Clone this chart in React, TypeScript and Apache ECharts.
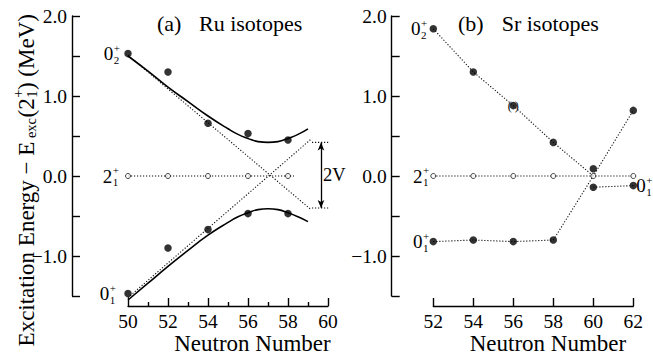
import React, { useEffect, useRef } from 'react';
import * as echarts from 'echarts';

const FONT = "'Liberation Serif', 'Times New Roman', serif";

// ---- Ru isotopes (panel a) ----
const ruN = [50, 52, 54, 56, 58];
const ruExcited0 = [1.53, 1.30, 0.66, 0.53, 0.45];
const ruGround0 = [-1.47, -0.90, -0.67, -0.47, -0.47];
const ruTwoPlus = [0, 0, 0, 0, 0];
const ruCurveN = [50, 51, 52, 53, 54, 55, 55.5, 56, 56.5, 57, 57.5, 58, 58.5, 59];
const ruCurveUpper = [1.50, 1.31, 1.11, 0.93, 0.75, 0.59, 0.52, 0.47, 0.43, 0.42, 0.43, 0.47, 0.52, 0.59];
const ruCurveLower = [-1.55, -1.34, -1.13, -0.93, -0.74, -0.58, -0.51, -0.46, -0.42, -0.41, -0.42, -0.46, -0.51, -0.57];
const ruUnperturbedA = [[50, 1.51], [59.15, -0.42]];
const ruUnperturbedB = [[50, -1.52], [59.15, 0.46]];
const ruTwoPlusLine = [[50, 0], [58.3, 0]];
const ruMixingLevels = [0.42, -0.40];
const ruMixingSpan = [59.2, 60.45];
const ruArrowN = 59.65;

// ---- Sr isotopes (panel b) ----
const srN = [52, 54, 56, 58, 60, 62];
const srExcited0 = [1.84, 1.30, 0.88, 0.42, 0.09, 0.82];
const srGround0 = [-0.82, -0.80, -0.82, -0.80, -0.14, -0.12];
const srTwoPlus = [0, 0, 0, 0, 0, 0];
const srCross = [60, 0];

// ---- axis ticks ----
const ruXTicks = { min: 50, max: 60, interval: 2 };
const srXTicks = { min: 52, max: 62, interval: 2 };
const yTicks = { min: -1.5, max: 2.0, interval: 0.5 };

const zip = (xs: number[], ys: number[]) => xs.map((x, i) => [x, ys[i]]);

let measureCtx: CanvasRenderingContext2D | null = null;
function textWidth(t: string, size: number) {
  if (!measureCtx) measureCtx = document.createElement('canvas').getContext('2d');
  measureCtx!.font = `${size}px ${FONT}`;
  return measureCtx!.measureText(t).width;
}

function txt(text: string, x: number, y: number, size: number, align = 'left') {
  return {
    type: 'text',
    x,
    y,
    silent: true,
    style: {
      text,
      fontSize: size,
      fontFamily: FONT,
      fill: '#000',
      align,
      verticalAlign: 'middle',
      textAlign: align,
      textVerticalAlign: 'middle',
    },
  };
}

function stateLabel(p: number[], main: string, sub: string, sup: string, side: 'left' | 'right', gap: number) {
  const mainSize = 19;
  const small = 11;
  const wm = textWidth(main, mainSize) + 0.5;
  const ws = Math.max(textWidth(sub, small), textWidth(sup, small));
  const total = wm + ws;
  const x0 = side === 'left' ? p[0] - gap - total : p[0] + gap;
  const y = p[1];
  return [txt(main, x0, y, mainSize), txt(sub, x0 + wm, y + 6, small), txt(sup, x0 + wm, y - 6, small)];
}

const dotted = { type: [1.2, 1.8] as any, width: 1.1, color: '#111' };

function xAxisCfg(grid: number, t: { min: number; max: number; interval: number }, minor: boolean) {
  return {
    type: 'value',
    gridIndex: grid,
    min: t.min,
    max: t.max,
    interval: t.interval,
    offset: 10,
    axisLine: { show: true, onZero: false, lineStyle: { color: '#000', width: 1.4 } },
    axisTick: { show: true, inside: true, length: 8, lineStyle: { color: '#000', width: 1.4 } },
    minorTick: { show: minor, splitNumber: 2, length: 4, lineStyle: { color: '#000', width: 1.4 } },
    splitLine: { show: false },
    axisLabel: { fontFamily: FONT, fontSize: 19.5, color: '#000', margin: 5 },
  };
}

function yAxisCfg(grid: number, offset: number) {
  return {
    type: 'value',
    gridIndex: grid,
    min: yTicks.min,
    max: yTicks.max,
    interval: yTicks.interval,
    offset,
    axisLine: { show: true, onZero: false, lineStyle: { color: '#000', width: 1.4 } },
    axisTick: { show: true, inside: true, length: 8, lineStyle: { color: '#000', width: 1.4 } },
    splitLine: { show: false },
    axisLabel: {
      fontFamily: FONT,
      fontSize: 19.5,
      color: '#000',
      margin: 5,
      formatter: (v: number) => {
        if (Math.abs(v - Math.round(v)) > 1e-6) return '';
        return (v < 0 ? '\u2212' : '') + Math.abs(v).toFixed(1);
      },
    },
  };
}

function lineSeries(xi: number, data: number[][], style: any, smooth = false) {
  return {
    type: 'line',
    xAxisIndex: xi,
    yAxisIndex: xi,
    data,
    symbol: 'none',
    smooth,
    clip: false,
    silent: true,
    lineStyle: style,
  };
}

function filledDots(xi: number, data: number[][]) {
  return {
    type: 'scatter',
    xAxisIndex: xi,
    yAxisIndex: xi,
    data,
    symbol: 'circle',
    symbolSize: 7.5,
    silent: true,
    z: 5,
    itemStyle: { color: '#000' },
  };
}

function openDots(xi: number, data: number[][]) {
  return {
    type: 'scatter',
    xAxisIndex: xi,
    yAxisIndex: xi,
    data,
    symbol: 'circle',
    symbolSize: 5,
    silent: true,
    z: 5,
    itemStyle: { color: '#fff', borderColor: '#111', borderWidth: 1 },
  };
}

function buildOption() {
  const srUpperPath = [...zip(srN.slice(0, 4), srExcited0.slice(0, 4)), srCross];
  const srLowerPath = [...zip(srN.slice(0, 4), srGround0.slice(0, 4)), srCross, [srN[5], srExcited0[5]]];
  const srGroundTail = zip(srN.slice(4), srGround0.slice(4));
  return {
    animation: false,
    backgroundColor: '#fff',
    textStyle: { fontFamily: FONT },
    grid: [
      { left: 128, top: 16, width: 200, height: 280 },
      { left: 433.3, top: 16, width: 200, height: 280 },
    ],
    xAxis: [xAxisCfg(0, ruXTicks, true), xAxisCfg(1, srXTicks, false)],
    yAxis: [yAxisCfg(0, 56), yAxisCfg(1, 41.6)],
    series: [
      // Ru
      lineSeries(0, ruTwoPlusLine, dotted),
      lineSeries(0, ruUnperturbedA, dotted),
      lineSeries(0, ruUnperturbedB, dotted),
      lineSeries(0, ruMixingSpan.map((x) => [x, ruMixingLevels[0]]), dotted),
      {
        ...lineSeries(0, ruMixingSpan.map((x) => [x, ruMixingLevels[1]]), dotted),
        markLine: {
          silent: true,
          symbol: ['arrow', 'arrow'],
          symbolSize: [5, 8],
          label: { show: false },
          lineStyle: { type: 'solid', color: '#000', width: 1.3 },
          data: [[{ coord: [ruArrowN, ruMixingLevels[0]] }, { coord: [ruArrowN, ruMixingLevels[1]] }]],
        },
      },
      lineSeries(0, zip(ruCurveN, ruCurveUpper), { type: 'solid', width: 1.6, color: '#000' }, true),
      lineSeries(0, zip(ruCurveN, ruCurveLower), { type: 'solid', width: 1.6, color: '#000' }, true),
      filledDots(0, zip(ruN, ruExcited0)),
      filledDots(0, zip(ruN, ruGround0)),
      openDots(0, zip(ruN, ruTwoPlus)),
      // Sr
      lineSeries(1, zip([srN[0], srN[5]], [0, 0]), dotted),
      lineSeries(1, srUpperPath, dotted),
      lineSeries(1, srLowerPath, dotted),
      lineSeries(1, srGroundTail, dotted),
      filledDots(1, zip(srN, srExcited0)),
      filledDots(1, zip(srN, srGround0)),
      openDots(1, zip(srN, srTwoPlus)),
    ],
  };
}

function buildGraphics(p: (g: number, v: number[]) => number[]) {
  const els: any[] = [];
  // panel titles
  els.push(txt('(a)', 157, 23, 22));
  els.push(txt('Ru isotopes', 199, 23, 22));
  els.push(txt('(b)', 458, 23, 22));
  els.push(txt('Sr isotopes', 501.7, 23, 22));
  // axis names
  els.push(txt('Neutron Number', 252.5, 343, 23, 'center'));
  els.push(txt('Neutron Number', 548, 343, 23, 'center'));

  // state labels Ru
  els.push(...stateLabel(p(0, [ruN[0], ruExcited0[0]]), '0', '2', '+', 'left', 8));
  els.push(...stateLabel(p(0, [ruN[0], ruTwoPlus[0]]), '2', '1', '+', 'left', 9));
  els.push(...stateLabel(p(0, [ruN[0], ruGround0[0]]), '0', '1', '+', 'left', 12));
  // state labels Sr
  els.push(...stateLabel(p(1, [srN[0], srExcited0[0]]), '0', '2', '+', 'left', 6));
  els.push(...stateLabel(p(1, [srN[0], srTwoPlus[0]]), '2', '1', '+', 'left', 4));
  els.push(...stateLabel(p(1, [srN[0], srGround0[0]]), '0', '1', '+', 'left', 4));
  els.push(...stateLabel(p(1, [srN[5], srGround0[5]]), '0', '1', '+', 'right', 3));

  // 2V label
  const av = p(0, [ruArrowN, (ruMixingLevels[0] + ruMixingLevels[1]) / 2]);
  els.push(txt('2V', av[0] + 2, av[1], 18.5));

  // parentheses around Sr N=56 point
  const pp = p(1, [srN[2], srExcited0[2]]);
  els.push(txt('(', pp[0] - 1.5, pp[1], 12, 'right'));
  els.push(txt(')', pp[0] + 1.5, pp[1], 12, 'left'));

  // y axis title (rotated)
  const big = 23;
  const small = 14.5;
  const pieces: { t: string; size: number; dy: number; dx?: number; stackWith?: string }[] = [
    { t: 'Excitation Energy \u2212 E', size: big, dy: 0 },
    { t: 'exc', size: small, dy: 5, dx: 3 },
    { t: '(2', size: big, dy: 0 },
    { t: '1', size: small, dy: 6, stackWith: '+' },
    { t: ') (MeV)', size: big, dy: 0 },
  ];
  let total = 0;
  const widths = pieces.map((pc) => {
    const w = textWidth(pc.t, pc.size) + (pc.dx || 0) + 0.5;
    total += w;
    return w;
  });
  let cx = -total / 2;
  const children: any[] = [];
  pieces.forEach((pc, i) => {
    const x = cx + (pc.dx || 0);
    children.push(txt(pc.t, x, pc.dy, pc.size));
    if (pc.stackWith) children.push(txt(pc.stackWith, x, -8, small));
    cx += widths[i];
  });
  els.push({ type: 'group', x: 26, y: 180, rotation: Math.PI / 2, silent: true, children });

  return els;
}

export default function App() {
  const ref = useRef<HTMLDivElement>(null);
  useEffect(() => {
    const chart = echarts.init(ref.current!, undefined, { renderer: 'svg' });
    chart.setOption(buildOption() as any);
    const p = (g: number, v: number[]) =>
      chart.convertToPixel({ xAxisIndex: g, yAxisIndex: g } as any, v) as unknown as number[];
    chart.setOption({ graphic: { elements: buildGraphics(p) } } as any);
    return () => chart.dispose();
  }, []);
  return (
    <div
      ref={ref}
      style={{ position: 'fixed', left: 0, top: 0, width: 653, height: 356, background: '#fff' }}
    />
  );
}
